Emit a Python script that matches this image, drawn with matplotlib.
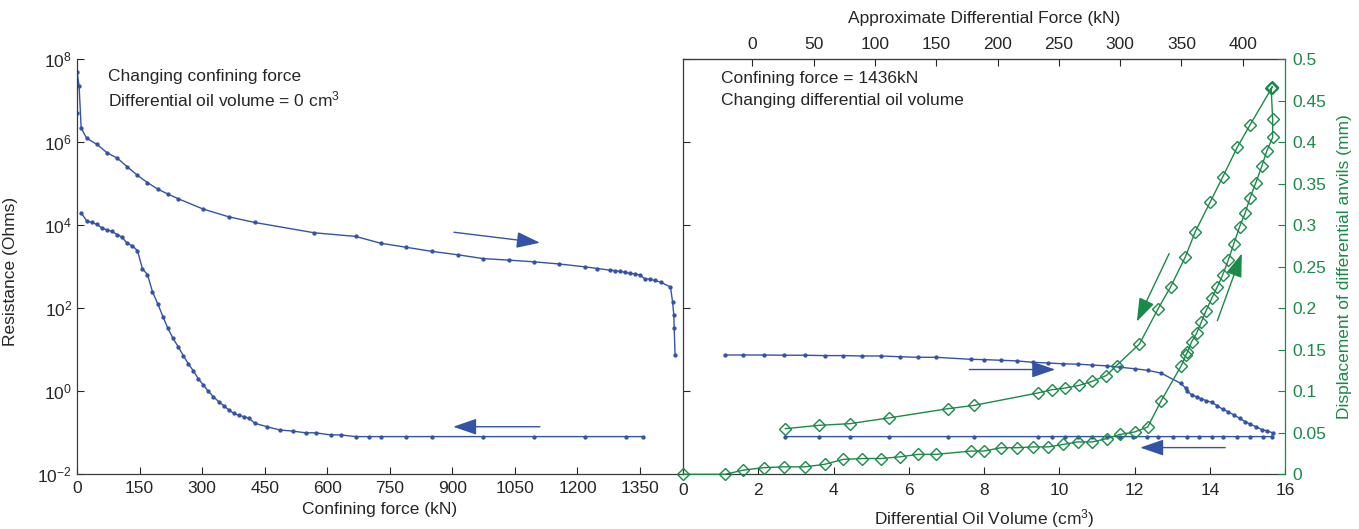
import matplotlib
matplotlib.use("Agg")
import matplotlib.pyplot as plt
from matplotlib.ticker import FixedLocator, NullLocator, FuncFormatter
from matplotlib.patches import FancyArrowPatch

plt.rcParams['font.family'] = ['Liberation Sans', 'DejaVu Sans']
plt.rcParams['mathtext.fontset'] = 'custom'
plt.rcParams['mathtext.rm'] = 'Liberation Sans'
plt.rcParams['mathtext.it'] = 'Liberation Sans:italic'
plt.rcParams['mathtext.bf'] = 'Liberation Sans:bold'

BLUE = '#3353a6'
GREEN = '#1a8a48'
INK = '#262626'
FS = 12.5

# --- left panel: changing confining force (kN) vs resistance (Ohms) ---
force_load = [0, 0, 5, 10, 23, 48, 72, 96, 120, 145, 169, 194, 219, 242, 303, 364, 426,
              569, 668, 728, 790, 851, 913, 973, 1035, 1095, 1156, 1217, 1248, 1278, 1290,
              1302, 1314, 1326, 1338, 1350, 1362, 1374, 1386, 1400, 1423, 1428, 1431, 1432, 1434]
res_load = [5.2e6, 5.0e7, 2.3e7, 2.2e6, 1.26e6, 8.9e5, 5.6e5, 4.2e5, 2.6e5, 1.6e5, 1.07e5,
            7.4e4, 5.6e4, 4.4e4, 2.45e4, 1.6e4, 1.17e4, 6.6e3, 5.4e3, 3.7e3, 2.95e3, 2.35e3,
            1.95e3, 1.58e3, 1.45e3, 1.32e3, 1.17e3, 1.0e3, 910, 830, 810, 775, 740, 690, 675,
            630, 510, 500, 470, 425, 325, 145, 69, 33, 7.5]

force_unload = [10, 23, 35, 48, 60, 72, 84, 96, 108, 120, 133, 145, 157, 169, 181, 194, 206,
                218, 230, 243, 255, 267, 279, 291, 303, 315, 327, 340, 352, 364, 376, 388, 401,
                413, 426, 455, 486, 517, 548, 572, 608, 632, 668, 699, 730, 790, 851, 973,
                1095, 1217, 1316, 1358]
res_unload = [2.0e4, 1.29e4, 1.17e4, 1.05e4, 8.5e3, 7.8e3, 7.1e3, 6.0e3, 5.2e3, 3.7e3, 3.2e3,
              2.45e3, 890, 650, 250, 126, 63, 33, 19, 11.7, 7.2, 4.6, 3.1, 2.0, 1.41, 1.0,
              0.74, 0.56, 0.45, 0.355, 0.295, 0.263, 0.245, 0.224, 0.17, 0.141, 0.117, 0.110,
              0.100, 0.100, 0.089, 0.089, 0.081, 0.081, 0.081, 0.081, 0.081, 0.081, 0.081,
              0.081, 0.081, 0.081]

# --- right panel: differential oil volume (cm3) ---
vol_load = [1.12, 1.60, 2.14, 2.69, 3.24, 3.76, 4.26, 4.76, 5.25, 5.76, 6.24, 6.72, 7.65, 8.00,
            8.44, 8.87, 9.30, 9.71, 10.11, 10.49, 10.88, 11.26, 11.61, 12.00, 12.35, 12.70,
            13.23, 13.37, 13.40, 13.52, 13.65, 13.77, 13.90, 14.05, 14.20, 14.34, 14.49, 14.64,
            14.79, 14.94, 15.07, 15.22, 15.38, 15.51, 15.67,
            15.65, 15.42, 15.07, 14.72, 14.36, 14.05, 13.70, 13.39, 13.03, 12.63, 12.32, 11.97,
            11.61, 11.26, 10.86, 10.51, 10.15, 9.80, 9.44, 7.73, 7.03, 5.48, 4.44, 3.61, 2.72]
res_vol = [7.5, 7.5, 7.5, 7.4, 7.4, 7.25, 7.25, 7.1, 7.1, 6.8, 6.6, 6.6, 5.9, 5.8, 5.6, 5.4,
           5.0, 4.8, 4.6, 4.5, 4.3, 4.1, 3.8, 3.5, 3.2, 2.75, 1.55, 1.17, 1.02, 0.81, 0.74,
           0.66, 0.60, 0.54, 0.45, 0.37, 0.32, 0.27, 0.224, 0.186, 0.162, 0.141, 0.120, 0.112,
           0.100,
           0.081, 0.081, 0.081, 0.081, 0.081, 0.081, 0.081, 0.081, 0.081, 0.081, 0.081, 0.081,
           0.081, 0.081, 0.081, 0.081, 0.081, 0.081, 0.081, 0.081, 0.081, 0.081, 0.081, 0.081,
           0.081]

vol_disp = [0.00, 1.12, 1.60, 2.14, 2.69, 3.24, 3.76, 4.26, 4.76, 5.25, 5.76, 6.24, 6.72, 7.65,
            8.00, 8.44, 8.87, 9.30, 9.71, 10.11, 10.49, 10.88, 11.26, 11.61, 12.00, 12.35,
            12.70, 13.23, 13.37, 13.40, 13.52, 13.65, 13.77, 13.90, 14.05, 14.20, 14.34, 14.49,
            14.64, 14.79, 14.94, 15.07, 15.22, 15.38, 15.51, 15.67, 15.67, 15.63, 15.66, 15.64,
            15.07, 14.73, 14.34, 14.01, 13.61, 13.35, 12.96, 12.62, 12.13, 11.52, 11.25, 10.87,
            10.52, 10.16, 9.81, 9.43, 7.73, 7.03, 5.48, 4.43, 3.61, 2.72]
disp = [0.0, 0.0, 0.005, 0.008, 0.009, 0.009, 0.012, 0.018, 0.019, 0.019, 0.021, 0.024, 0.024,
        0.028, 0.028, 0.032, 0.032, 0.033, 0.033, 0.036, 0.039, 0.039, 0.043, 0.048, 0.051,
        0.057, 0.088, 0.130, 0.144, 0.147, 0.160, 0.170, 0.183, 0.197, 0.212, 0.226, 0.240,
        0.258, 0.278, 0.298, 0.315, 0.333, 0.351, 0.371, 0.389, 0.406, 0.428, 0.465, 0.467,
        0.465, 0.421, 0.394, 0.358, 0.328, 0.292, 0.262, 0.226, 0.199, 0.157, 0.131, 0.119,
        0.112, 0.107, 0.104, 0.102, 0.098, 0.083, 0.079, 0.068, 0.061, 0.059, 0.055]

res_ticks = [1e-2, 1e0, 1e2, 1e4, 1e6, 1e8]
force_ticks = [0, 150, 300, 450, 600, 750, 900, 1050, 1200, 1350]
vol_ticks = [0, 2, 4, 6, 8, 10, 12, 14, 16]
kn_ticks = [0, 50, 100, 150, 200, 250, 300, 350, 400]
disp_ticks = [0, 0.05, 0.1, 0.15, 0.2, 0.25, 0.3, 0.35, 0.4, 0.45, 0.5]


def arrow(ax, start, end, color):
    ax.add_patch(FancyArrowPatch(start, end, arrowstyle='-|>,head_length=1.45,head_width=0.5',
                                 mutation_scale=10, color=color, lw=1.0, shrinkA=0, shrinkB=0,
                                 clip_on=False))


def style(ax):
    ax.tick_params(direction='in', length=5, width=0.8, colors=INK, labelsize=FS)
    for s in ax.spines.values():
        s.set_color('#3a3a3a')
        s.set_linewidth(0.9)


fig = plt.figure(figsize=(13.59, 5.29), dpi=100)
ax1 = fig.add_axes([0.05666, 0.1034, 0.4459, 0.7845])
ax2 = fig.add_axes([0.5026, 0.1034, 0.4430, 0.7845])

# left
ax1.plot(force_load, res_load, '-', color=BLUE, lw=1.0, marker='.', ms=4.2)
ax1.plot(force_unload, res_unload, '-', color=BLUE, lw=1.0, marker='.', ms=4.2)
ax1.set_yscale('log')
ax1.set_ylim(1e-2, 1e8)
ax1.set_xlim(0, 1453)
ax1.yaxis.set_major_locator(FixedLocator(res_ticks))
ax1.yaxis.set_minor_locator(NullLocator())
ax1.set_xticks(force_ticks)
ax1.spines['top'].set_visible(False)
ax1.spines['right'].set_visible(False)
style(ax1)
ax1.tick_params(axis='x', pad=5)
ax1.set_xlabel('Confining force (kN)', fontsize=FS, color=INK, labelpad=4)
ax1.set_ylabel('Resistance (Ohms)', fontsize=FS, color=INK)
ax1.yaxis.set_label_coords(-0.097, 0.49)
ax1.text(0.051, 0.9485, 'Changing confining force', transform=ax1.transAxes,
         fontsize=FS, color=INK, va='baseline')
ax1.text(0.051, 0.8858, 'Differential oil volume = 0 cm$^3$', transform=ax1.transAxes,
         fontsize=FS, color=INK, va='baseline')
arrow(ax1, (904, 6.8e3), (1110, 3.8e3), BLUE)
arrow(ax1, (1110, 0.140), (902, 0.140), BLUE)

# right, resistance
ax2.plot(vol_load, res_vol, '-', color=BLUE, lw=1.0, marker='.', ms=4.2)
ax2.set_yscale('log')
ax2.set_ylim(1e-2, 1e8)
ax2.set_xlim(0, 16)
ax2.yaxis.set_major_locator(FixedLocator(res_ticks))
ax2.yaxis.set_minor_locator(NullLocator())
ax2.set_xticks(vol_ticks)
style(ax2)
ax2.tick_params(axis='x', pad=6)
ax2.tick_params(axis='y', labelleft=False)
ax2.spines['right'].set_visible(False)
ax2.set_xlabel('Differential Oil Volume (cm$^3$)', fontsize=FS, color=INK, labelpad=7)
ax2.text(0.063, 0.942, 'Confining force = 1436kN', transform=ax2.transAxes,
         fontsize=FS, color=INK, va='baseline')
ax2.text(0.063, 0.890, 'Changing differential oil volume', transform=ax2.transAxes,
         fontsize=FS, color=INK, va='baseline')
arrow(ax2, (7.61, 3.35), (9.89, 3.35), BLUE)
arrow(ax2, (14.41, 0.044), (12.15, 0.044), BLUE)

# top axis: approximate differential force
top = ax2.secondary_xaxis('top', functions=(lambda v: 30.69 * (v - 1.842),
                                            lambda f: f / 30.69 + 1.842))
top.set_xticks(kn_ticks)
top.tick_params(direction='in', length=5, width=0.8, colors=INK, labelsize=FS, pad=5)
top.spines['top'].set_color('#3a3a3a')
top.set_xlabel('Approximate Differential Force (kN)', fontsize=FS, color=INK, labelpad=10)

# right, displacement
ax3 = ax2.twinx()
ax3.plot(vol_disp, disp, '-', color=GREEN, lw=1.0, marker='D', ms=6.6,
         mfc='none', mec=GREEN, mew=1.0, clip_on=False)
ax3.set_ylim(0, 0.5)
ax3.set_xlim(0, 16)
ax3.set_yticks(disp_ticks)
ax3.yaxis.set_major_formatter(FuncFormatter(lambda v, p: '%g' % round(v, 2)))
ax3.tick_params(direction='in', length=5, width=0.8, colors=GREEN, labelsize=FS, pad=5)
for k in ['top', 'left', 'bottom']:
    ax3.spines[k].set_visible(False)
ax3.spines['right'].set_color(GREEN)
ax3.spines['right'].set_linewidth(0.9)
ax3.set_ylabel('Displacement of differential anvils (mm)', fontsize=FS, color=GREEN,
               labelpad=8)
arrow(ax3, (12.92, 0.266), (12.06, 0.184), GREEN)
arrow(ax3, (14.20, 0.185), (14.85, 0.266), GREEN)

fig.savefig('out.png', dpi=100)
